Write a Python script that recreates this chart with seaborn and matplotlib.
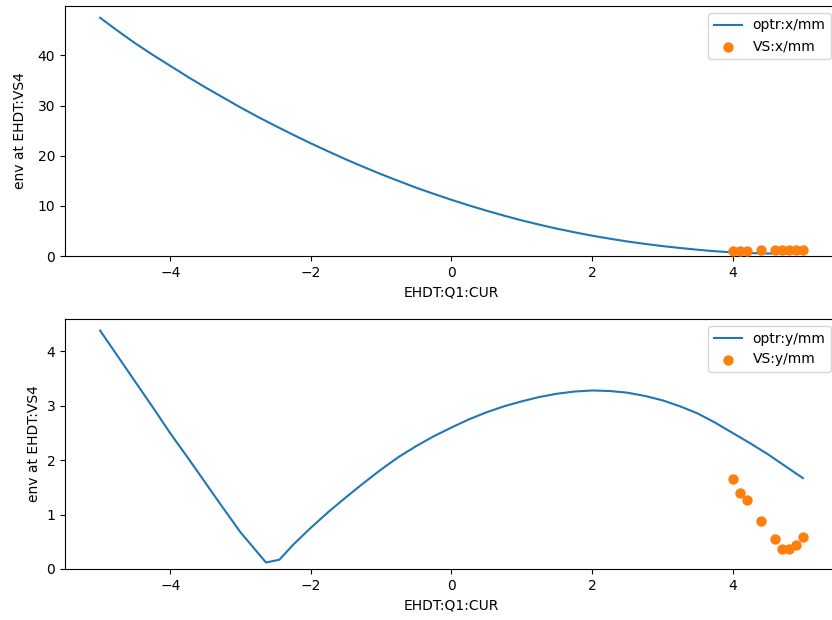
import matplotlib
matplotlib.use("Agg")
import matplotlib.pyplot as plt
import seaborn as sns
import pandas as pd

# quadrupole current scan, horizontal plane
cur_x = [-5.0, -4.75, -4.5, -4.25, -4.0, -3.75, -3.5, -3.25, -3.0, -2.75,
         -2.5, -2.25, -2.0, -1.75, -1.5, -1.25, -1.0, -0.75, -0.5, -0.25,
         0.0, 0.25, 0.5, 0.75, 1.0, 1.25, 1.5, 1.75, 2.0, 2.25,
         2.5, 2.75, 3.0, 3.25, 3.5, 3.75, 4.0, 4.25, 4.5, 4.75, 5.0]
optr_x = [47.5, 44.9, 42.4, 40.1, 37.9, 35.7, 33.6, 31.6, 29.6, 27.7,
          25.9, 24.15, 22.45, 20.83, 19.25, 17.75, 16.3, 14.94, 13.6, 12.38,
          11.2, 10.08, 9.03, 8.04, 7.1, 6.25, 5.45, 4.73, 4.05, 3.46,
          2.9, 2.42, 1.98, 1.6, 1.25, 0.95, 0.72, 0.58, 0.5, 0.5, 0.55]

# quadrupole current scan, vertical plane
cur_y = [-5.0, -4.75, -4.5, -4.25, -4.0, -3.75, -3.5, -3.25, -3.0, -2.64,
         -2.45, -2.25, -2.0, -1.75, -1.5, -1.25, -1.0, -0.75, -0.5, -0.25,
         0.0, 0.25, 0.5, 0.75, 1.0, 1.25, 1.5, 1.75, 2.0, 2.25,
         2.5, 2.75, 3.0, 3.25, 3.5, 3.75, 4.0, 4.25, 4.5, 4.75, 5.0]
optr_y = [4.38, 3.91, 3.44, 2.97, 2.49, 2.04, 1.58, 1.12, 0.67, 0.12,
          0.17, 0.45, 0.76, 1.05, 1.32, 1.58, 1.83, 2.06, 2.26, 2.44,
          2.60, 2.75, 2.88, 2.99, 3.08, 3.16, 3.22, 3.26, 3.28, 3.27,
          3.24, 3.18, 3.10, 2.99, 2.86, 2.69, 2.50, 2.31, 2.11, 1.89, 1.67]

# measured points at the viewing screen
vs_cur = [4.0, 4.1, 4.2, 4.4, 4.6, 4.7, 4.8, 4.9, 5.0]
vs_x = [1.05, 1.05, 1.05, 1.1, 1.1, 1.1, 1.1, 1.15, 1.15]
vs_y = [1.65, 1.40, 1.27, 0.89, 0.545, 0.37, 0.37, 0.44, 0.59]

line_x = pd.DataFrame({"cur": cur_x, "env": optr_x})
line_y = pd.DataFrame({"cur": cur_y, "env": optr_y})
pts_x = pd.DataFrame({"cur": vs_cur, "env": vs_x})
pts_y = pd.DataFrame({"cur": vs_cur, "env": vs_y})

fig = plt.figure(figsize=(8.32, 6.2), dpi=100)
ax1 = fig.add_axes([65 / 832, 364 / 620, 773 / 832, 250 / 620])
ax2 = fig.add_axes([65 / 832, 51 / 620, 773 / 832, 250 / 620])

blue = "#1f77b4"
orange = "#ff7f0e"

for ax, line, pts, tag in [(ax1, line_x, pts_x, "x"), (ax2, line_y, pts_y, "y")]:
    sns.lineplot(data=line, x="cur", y="env", ax=ax, color=blue,
                 linewidth=1.5, label=f"optr:{tag}/mm", sort=False)
    sns.scatterplot(data=pts, x="cur", y="env", ax=ax, color=orange,
                    s=56, linewidth=0, label=f"VS:{tag}/mm", zorder=3)
    ax.set_ylim(bottom=0)
    ax.set_xlabel("EHDT:Q1:CUR")
    ax.set_xticks([-4, -2, 0, 2, 4])
    ax.legend(loc="upper right")

ax1.set_ylabel("env at EHDT:VS4", labelpad=7.5)
ax2.set_ylabel("env at EHDT:VS4", labelpad=4)
ax1.set_xlim(-5.5, 5.5)
ax2.set_xlim(-5.5, 5.5)
ax1.set_yticks([0, 10, 20, 30, 40])
ax2.set_yticks([0, 1, 2, 3, 4])

fig.savefig("out.png", dpi=100)
